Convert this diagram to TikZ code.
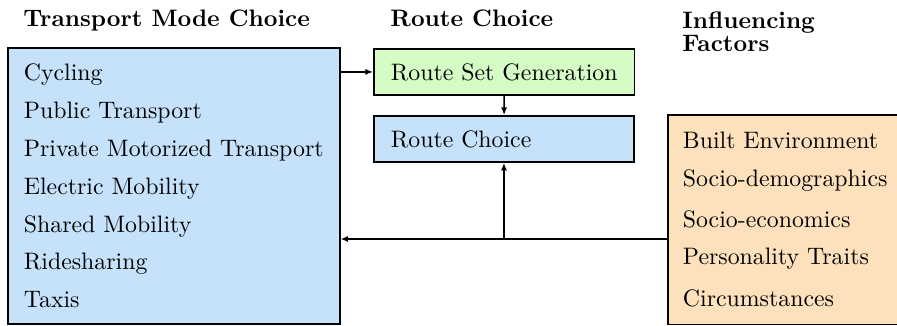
\documentclass[tikz,border=0pt]{standalone}
\usepackage{tikz}
\usetikzlibrary{arrows.meta}
\usetikzlibrary{positioning}
\definecolor{modeblue}{RGB}{198,226,251}
\definecolor{routegreen}{RGB}{213,252,196}
\definecolor{factororange}{RGB}{253,224,188}
\tikzstyle{heading}=[anchor=base west,inner sep=0pt,font=\bfseries]
\tikzstyle{box}=[draw,line width=.8pt,anchor=north west,align=left]
\tikzstyle{flow}=[line width=.6pt,-{Latex[length=3.2pt,width=2.6pt]}]

\begin{document}
\begin{tikzpicture}[x=0.42pt,y=-0.42pt]
	\useasboundingbox (0,0) rectangle (897,325);
	% column headings
	\node[heading] (h-mode)  at (23,26)  {Transport Mode Choice};
	\node[heading] (h-route) at (390,26) {Route Choice};
	\node[heading,anchor=north west,align=left] (h-factors) at (682,11) {Influencing\\[-2pt]Factors};
	% boxes (width follows the longest line)
	\node[box,fill=modeblue,minimum height=115.9pt,inner xsep=6.7pt] (mode) at (7,47)
	      {Cycling\\[3.9pt]Public Transport\\[3.9pt]Private Motorized Transport\\[3.9pt]Electric Mobility\\[3.9pt]Shared Mobility\\[3.9pt]Ridesharing\\[3.9pt]Taxis};
	\node[box,fill=routegreen,minimum height=19.3pt,inner xsep=7.1pt] (rsg) at (373,48) {Route Set Generation};
	\node[box,fill=modeblue,minimum height=19.3pt,minimum width=109.2pt,inner xsep=7.1pt,
	      text width=95pt] (choice) at (373,115) {Route Choice};
	\node[box,fill=factororange,minimum height=88pt,inner xsep=6.3pt] (factors) at (667,114)
	      {Built Environment\\[4pt]Socio-demographics\\[5.2pt]Socio-economics\\[3.5pt]Personality Traits\\[5.6pt]Circumstances};
	% connectors
	\coordinate (split) at (choice.south |- 0,239);
	\draw[flow] (mode.east |- rsg.west) -- (rsg.west);
	\draw[flow] (rsg) -- (choice);
	\draw[flow] (factors.west |- split) -- (mode.east |- split);
	\draw[flow] (split) -- (choice.south);
\end{tikzpicture}
\end{document}
